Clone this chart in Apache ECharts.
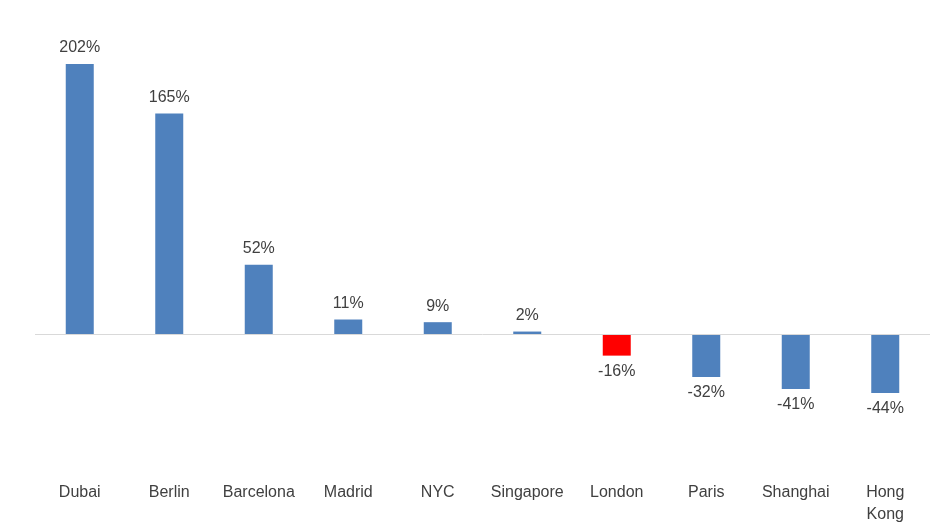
<!DOCTYPE html>
<html><head><meta charset="utf-8">
<script src="https://cdn.jsdelivr.net/npm/echarts@6/dist/echarts.min.js"></script>
<style>html,body{margin:0;padding:0;background:#fff}#c{width:930px;height:528px}</style>
</head><body><div id="c"></div>
<script>
const categories = ['Dubai','Berlin','Barcelona','Madrid','NYC','Singapore','London','Paris','Shanghai','Hong\nKong'];
const values = [202,165,52,11,9,2,-16,-32,-41,-44];
const highlight = 'London';
const chart = echarts.init(document.getElementById('c'));
chart.setOption({
  animation:false,
  grid:{left:35,right:0,top:64,bottom:60},
  xAxis:{type:'category',data:categories,axisLine:{show:false,onZero:false},axisTick:{show:false},
    axisLabel:{margin:14,color:'#404040',fontSize:16,fontFamily:'Liberation Sans',lineHeight:22,interval:0}},
  yAxis:{type:'value',min:-100,max:202,show:false,splitLine:{show:false}},
  series:[{type:'bar',barWidth:28,
    data:values.map((v,i)=>({value:v,itemStyle:{color:categories[i]===highlight?'#ff0000':'#4f81bd'},
      label:{position:v>=0?'top':'bottom'}})),
    label:{show:true,distance:8,formatter:p=>p.value+'%',color:'#404040',fontSize:16,fontFamily:'Liberation Sans'},
    markLine:{silent:true,symbol:'none',label:{show:false},lineStyle:{color:'#d9d9d9',type:'solid',width:1},data:[{yAxis:0}]}
  }]
});
</script></body></html>
